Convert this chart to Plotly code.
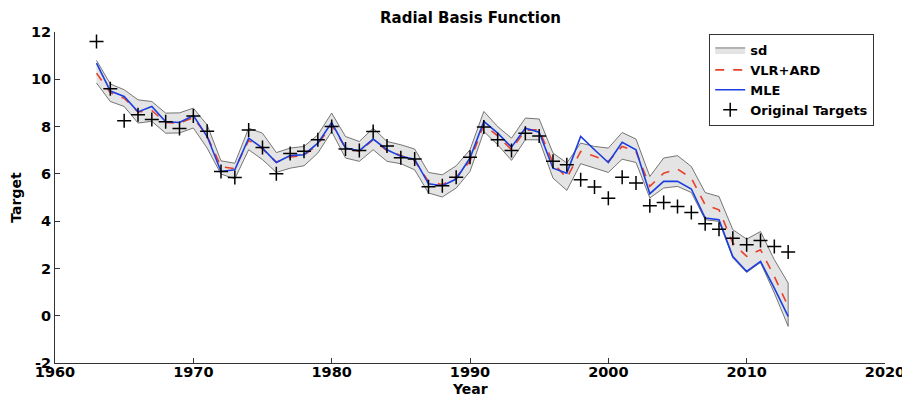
import plotly.graph_objects as go

years = list(range(1963, 2014))

targets = [11.6, 9.6, 8.25, 8.5, 8.3, 8.2, 7.92, 8.45, 7.8, 6.1,
           5.85, 7.86, 7.12, 6.0, 6.86, 6.96, 7.44, 8.0, 7.05, 6.99,
           7.79, 7.18, 6.68, 6.63, 5.45, 5.5, 5.86, 6.7, 7.98, 7.44,
           6.99, 7.72, 7.6, 6.53, 6.38, 5.75, 5.44, 4.97, 5.86, 5.61,
           4.65, 4.79, 4.62, 4.37, 3.89, 3.66, 3.28, 3.0, 3.18, 2.93, 2.69]

mle = [10.68, 9.5, 9.27, 8.62, 8.85, 8.2, 8.17, 8.47, 7.58, 6.1,
       6.17, 7.51, 7.09, 6.48, 6.77, 6.81, 7.3, 8.17, 7.09, 6.98,
       7.47, 7.02, 6.74, 6.62, 5.58, 5.5, 5.78, 6.67, 8.22, 7.72,
       7.13, 7.93, 7.76, 6.24, 6.03, 7.58, 7.02, 6.48, 7.33, 7.02,
       5.16, 5.68, 5.68, 5.36, 4.13, 4.06, 2.5, 1.87, 2.3, 1.17, -0.03]

vlr_ard = [10.26, 9.43, 9.2, 8.62, 8.68, 8.17, 8.15, 8.38, 7.6, 6.3,
           6.22, 7.42, 7.05, 6.5, 6.71, 6.78, 7.25, 8.07, 7.1, 6.95,
           7.45, 6.98, 6.78, 6.55, 5.68, 5.54, 5.86, 6.53, 8.07, 7.61,
           7.02, 7.85, 7.86, 6.46, 5.82, 6.95, 6.74, 6.53, 7.16, 6.95,
           5.47, 6.03, 6.2, 5.82, 4.69, 4.48, 3.07, 2.51, 2.79, 1.66, 0.39]

sd_upper = [10.8, 9.8, 9.56, 9.13, 9.06, 8.57, 8.58, 8.78, 8.07, 6.55,
            6.45, 7.93, 7.72, 6.9, 7.09, 7.16, 7.65, 8.57, 7.58, 7.37,
            7.93, 7.37, 7.23, 7.05, 6.06, 5.96, 6.34, 7.02, 8.64, 8.0,
            7.51, 8.36, 8.32, 6.88, 6.46, 7.3, 7.16, 7.09, 7.75, 7.47,
            5.89, 6.67, 6.77, 6.31, 5.21, 5.04, 3.64, 3.24, 3.56, 2.37, 1.38]

sd_lower = [9.84, 9.06, 8.85, 8.15, 8.22, 7.72, 7.73, 7.94, 7.09, 5.99,
            5.79, 7.02, 6.6, 6.06, 6.24, 6.34, 6.88, 7.79, 6.67, 6.53,
            7.02, 6.53, 6.43, 6.17, 5.19, 5.02, 5.4, 6.1, 7.79, 7.23,
            6.57, 7.44, 7.44, 5.82, 5.3, 6.43, 6.24, 6.06, 6.62, 6.48,
            4.98, 5.4, 5.47, 5.21, 4.06, 3.99, 2.44, 1.83, 2.25, 0.96, -0.45]

x_ticks = [1960, 1970, 1980, 1990, 2000, 2010, 2020]
y_ticks = [-2, 0, 2, 4, 6, 8, 10, 12]

FONT = "DejaVu Sans, Verdana, sans-serif"

fig = go.Figure()

fig.add_trace(go.Scatter(
    x=years + years[::-1],
    y=sd_upper + sd_lower[::-1],
    fill="toself", fillcolor="#e4e4e4",
    line=dict(color="#555555", width=0.8),
    mode="lines", name="<b>sd</b>",
))
fig.add_trace(go.Scatter(
    x=years, y=vlr_ard, mode="lines", name="<b>VLR+ARD</b>",
    line=dict(color="#e8402a", width=1.6, dash="dash"),
))
fig.add_trace(go.Scatter(
    x=years, y=mle, mode="lines", name="<b>MLE</b>",
    line=dict(color="#1a3ee0", width=1.6),
))
fig.add_trace(go.Scatter(
    x=years, y=targets, mode="markers", name="<b>Original Targets</b>",
    marker=dict(symbol="cross-thin", size=10, color="black",
                line=dict(color="black", width=1.5)),
))

# The page body adds an 8px offset; figure is sized so the plot area lands
# at the reference position in the 910x396 window.
fig.update_layout(
    width=902, height=388,
    margin=dict(l=47, r=25, t=24, b=33),
    paper_bgcolor="white", plot_bgcolor="white",
    font=dict(family=FONT, size=14, color="black"),
    title=dict(text="<b>Radial Basis Function</b>", x=0.5127, xanchor="center",
               y=0.974, yanchor="middle", font=dict(size=15)),
    showlegend=True,
    legend=dict(x=0.987, y=0.994, xanchor="right", yanchor="top",
                bgcolor="white", bordercolor="#333333", borderwidth=1,
                font=dict(size=13, family=FONT), tracegroupgap=0,
                itemwidth=30),
    annotations=[
        dict(text="<b>Year</b>", xref="paper", yref="paper", x=0.5,
             y=-0.0775, xanchor="center", yanchor="middle", showarrow=False,
             font=dict(size=14)),
        dict(text="<b>Target</b>", xref="paper", yref="paper", x=-0.048,
             y=0.5, xanchor="center", yanchor="middle", showarrow=False,
             textangle=-90, font=dict(size=14)),
    ],
)

fig.update_xaxes(
    range=[1960, 2020], tickvals=x_ticks,
    ticktext=["<b>%d</b>" % t for t in x_ticks],
    tickfont=dict(size=14.5), ticklabelstandoff=-4,
    ticks="inside", ticklen=5, tickcolor="#333333",
    showline=True, linecolor="#333333", linewidth=1,
    showgrid=False, zeroline=False, automargin=False,
)
fig.update_yaxes(
    range=[-2, 12], tickvals=y_ticks,
    ticktext=["<b>%d</b>" % t for t in y_ticks],
    tickfont=dict(size=14.5),
    ticks="inside", ticklen=5, tickcolor="#333333",
    showline=True, linecolor="#333333", linewidth=1,
    showgrid=False, zeroline=False, automargin=False,
)

fig.write_html("out.html")
